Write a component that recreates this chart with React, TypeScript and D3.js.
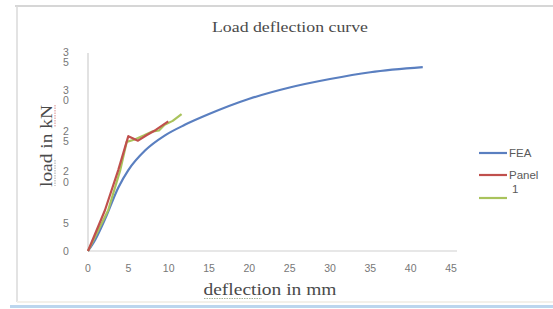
import React, { useEffect, useRef } from 'react';
import * as d3 from 'd3';

// deflection (mm) / load (kN)
const feaX = [0, 0.9, 2.1, 3.75, 5.0, 7.1, 9.5, 12.0, 15.0, 20.0, 25.0, 30.0, 35.0, 41.5];
const feaY = [0, 2.0, 5.6, 11.2, 14.3, 17.8, 20.4, 22.3, 24.2, 26.9, 28.9, 30.4, 31.6, 32.5];

const panelX = [0, 2.1, 3.75, 5.0, 6.2, 7.3, 8.4, 9.95];
const panelY = [0, 7.2, 14.3, 20.3, 19.5, 20.5, 21.4, 22.9];

const greenX = [0, 2.5, 4.0, 4.8, 5.8, 6.9, 7.9, 8.8, 9.5, 10.5, 11.6];
const greenY = [0, 7.2, 14.3, 19.3, 19.7, 20.4, 21.1, 21.3, 22.3, 23.0, 24.2];

const xTicks = [0, 5, 10, 15, 20, 25, 30, 35, 40, 45];
// the y labels sit off their ticks in the picture; yLabelAt is where they show
const yTickLabels = ['0', '5', '20', '25', '30', '35'];
const yLabelAt = [0, 5, 13.2, 20.3, 27.6, 34.3];

const seriesNames = ['FEA', 'Panel 1', ''];
const seriesColors = ['#5a7fc0', '#c0504d', '#a9c35c'];

const App = () => {
  const svgRef = useRef<SVGSVGElement>(null);

  useEffect(() => {
    const svg = d3.select(svgRef.current);
    svg.selectAll('*').remove();

    const width = 553;
    const height = 309;
    const sans = '"Liberation Sans", Arial, sans-serif';
    const serif = '"Liberation Serif", "Times New Roman", serif';
    const tickColor = '#777';

    svg.append('rect').attr('width', width).attr('height', height).attr('fill', '#fff');

    // chart frame bits
    svg.append('line').attr('x1', 15).attr('x2', width).attr('y1', 6).attr('y2', 6)
      .attr('stroke', '#d6d6d6').attr('stroke-width', 2);
    svg.append('line').attr('x1', 17).attr('x2', 17).attr('y1', 6).attr('y2', 302)
      .attr('stroke', '#dadada').attr('stroke-width', 1.5);
    svg.append('line').attr('x1', 10).attr('x2', width).attr('y1', 306.5).attr('y2', 306.5)
      .attr('stroke', '#bcd6ee').attr('stroke-width', 3);
    svg.append('line').attr('x1', 17).attr('x2', width).attr('y1', 302).attr('y2', 302)
      .attr('stroke', '#f3f0ea').attr('stroke-width', 2);

    const x = d3.scaleLinear().domain([0, 45]).range([88, 451]);
    const y = d3.scaleLinear().domain([0, 35]).range([251, 53]);

    // axes
    svg.append('line').attr('x1', x(0)).attr('x2', x(45) + 6).attr('y1', y(0)).attr('y2', y(0))
      .attr('stroke', '#cfcfcf').attr('stroke-width', 1.2);
    svg.append('line').attr('x1', x(0)).attr('x2', x(0)).attr('y1', y(0)).attr('y2', y(35))
      .attr('stroke', '#cfcfcf').attr('stroke-width', 1.2);

    svg.append('g').selectAll('text')
      .data(xTicks)
      .enter()
      .append('text')
      .attr('x', d => x(d))
      .attr('y', 272)
      .attr('text-anchor', 'middle')
      .attr('font-family', sans)
      .attr('font-size', 10.5)
      .attr('fill', tickColor)
      .text(d => d);

    const yl = svg.append('g').selectAll('text')
      .data(yTickLabels)
      .enter()
      .append('text')
      .attr('font-family', sans)
      .attr('font-size', 10.5)
      .attr('fill', tickColor)
      .attr('text-anchor', 'middle');
    yl.each(function (d, i) {
      const t = d3.select(this);
      const cy = y(yLabelAt[i]);
      const chars = d.split('');
      const lh = 10.5;
      chars.forEach((c, k) => {
        t.append('tspan')
          .attr('x', 66)
          .attr('y', cy + 4 + (k - (chars.length - 1) / 2) * lh)
          .text(c);
      });
    });

    // series
    const series = [
      { xs: feaX, ys: feaY, curve: d3.curveMonotoneX },
      { xs: panelX, ys: panelY, curve: d3.curveLinear },
      { xs: greenX, ys: greenY, curve: d3.curveLinear },
    ];
    const order = [0, 2, 1];
    order.forEach(i => {
      const s = series[i];
      const pts = s.xs.map((v, k) => [v, s.ys[k]] as [number, number]);
      const line = d3.line<[number, number]>()
        .x(d => x(d[0]))
        .y(d => y(d[1]))
        .curve(s.curve);
      svg.append('path')
        .datum(pts)
        .attr('fill', 'none')
        .attr('stroke', seriesColors[i])
        .attr('stroke-width', 2.2)
        .attr('stroke-linejoin', 'round')
        .attr('d', line);
    });

    // title
    svg.append('text')
      .attr('x', 290)
      .attr('y', 32)
      .attr('text-anchor', 'middle')
      .attr('font-family', serif)
      .attr('font-size', 15)
      .attr('fill', '#4a4a4a')
      .attr('textLength', 156)
      .attr('lengthAdjust', 'spacingAndGlyphs')
      .text('Load deflection curve');

    // axis titles
    svg.append('text')
      .attr('x', 270)
      .attr('y', 295)
      .attr('text-anchor', 'middle')
      .attr('font-family', serif)
      .attr('font-size', 16)
      .attr('fill', '#4a4a4a')
      .attr('textLength', 133)
      .attr('lengthAdjust', 'spacingAndGlyphs')
      .text('deflection in mm');
    svg.append('line').attr('x1', 204).attr('x2', 262).attr('y1', 298.5).attr('y2', 298.5)
      .attr('stroke', '#a7b59a').attr('stroke-width', 1).attr('stroke-dasharray', '1.5,1');

    svg.append('text')
      .attr('transform', 'translate(52,146) rotate(-90)')
      .attr('text-anchor', 'middle')
      .attr('font-family', serif)
      .attr('font-size', 16)
      .attr('fill', '#4a4a4a')
      .attr('textLength', 82)
      .attr('lengthAdjust', 'spacingAndGlyphs')
      .text('load in kN');
    svg.append('line').attr('x1', 55).attr('x2', 55).attr('y1', 105).attr('y2', 127)
      .attr('stroke', '#d88a8a').attr('stroke-width', 1).attr('stroke-dasharray', '1.5,1');
    svg.append('line').attr('x1', 55).attr('x2', 55).attr('y1', 160).attr('y2', 186)
      .attr('stroke', '#a7a7a7').attr('stroke-width', 1).attr('stroke-dasharray', '1.5,1');

    // legend
    const legendLineY = [153, 175, 198];
    seriesNames.forEach((name, i) => {
      svg.append('line')
        .attr('x1', 479).attr('x2', 507)
        .attr('y1', legendLineY[i]).attr('y2', legendLineY[i])
        .attr('stroke', seriesColors[i]).attr('stroke-width', 2.2);
      if (!name) return;
      const parts = name.split(' ');
      const t = svg.append('text')
        .attr('font-family', sans)
        .attr('font-size', 11.5)
        .attr('fill', '#5a5a5a');
      parts.forEach((p, k) => {
        t.append('tspan')
          .attr('x', k === 0 ? 509 : 512)
          .attr('y', legendLineY[i] + 4 + k * 14)
          .text(p);
      });
    });
  }, []);

  return (
    <svg
      ref={svgRef}
      width={553}
      height={309}
      style={{ position: 'fixed', left: 0, top: 0 }}
    />
  );
};

export default App;
